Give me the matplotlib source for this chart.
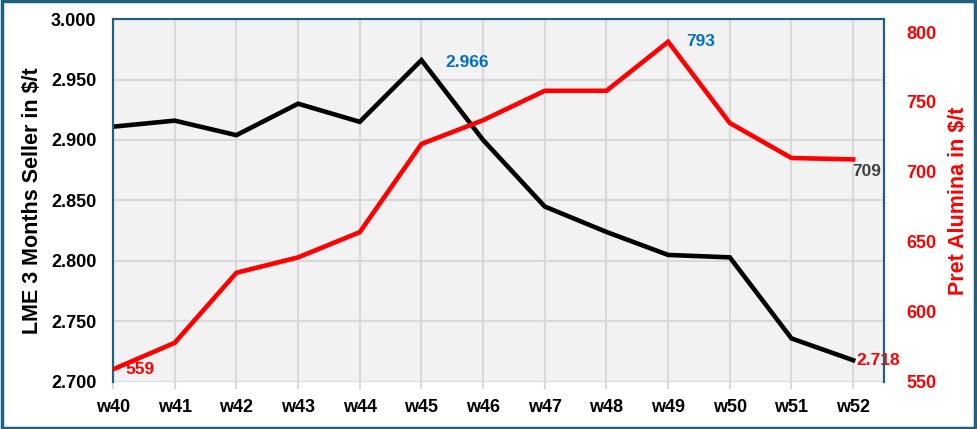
import numpy as np
import matplotlib.pyplot as plt
from matplotlib.patches import Rectangle

# -------------------
# Data
# -------------------
weeks = ["w40", "w41", "w42", "w43", "w44", "w45", "w46",
         "w47", "w48", "w49", "w50", "w51", "w52"]
lme_3m = [2.911, 2.916, 2.904, 2.930, 2.915, 2.966, 2.900,
          2.845, 2.824, 2.805, 2.803, 2.736, 2.718]
alumina = [559, 578, 628, 639, 657, 720, 737,
           758, 758, 793, 735, 710, 709]

plt.rcParams['font.family'] = ['Liberation Sans', 'DejaVu Sans']
plt.rcParams['font.weight'] = 'bold'

BLUE_EDGE = "#1f5f80"
GRID = "#d9d9d9"

fig = plt.figure(figsize=(9.77, 4.29), dpi=100)
ax = fig.add_axes([0.1157, 0.1096, 0.7891, 0.8461])
ax2 = ax.twinx()

x = np.arange(len(weeks))

# -------------------
# Left axis (LME)
# -------------------
ax.set_facecolor("#f2f2f2")
ax.plot(x, lme_3m, color="black", lw=3.3, solid_joinstyle="miter", zorder=3)
ax.set_xlim(0, 12.5)
ax.set_ylim(2.700, 3.000)
yt = np.arange(2.700, 3.0001, 0.05)
ax.set_yticks(yt)
ax.set_yticklabels([f"{v:.3f}" for v in yt])
ax.set_xticks(x)
ax.set_xticklabels(weeks)
ax.grid(True, color=GRID, lw=1.5, zorder=0)
ax.set_axisbelow(True)
ax.tick_params(axis="y", length=0, labelsize=13, pad=12)
ax.tick_params(axis="x", length=5, color=GRID, width=1.5, labelsize=13, pad=7)
ax.set_ylabel("LME 3 Months Seller in $/t", fontsize=15.5, fontweight="bold", labelpad=6)

# -------------------
# Right axis (alumina)
# -------------------
ax2.plot(x, alumina, color="#ff0000", lw=3.3, solid_joinstyle="miter", zorder=3)
ax2.set_ylim(550, 550 + 363 / 1.4)
ax2.set_yticks(np.arange(550, 801, 50))
ax2.tick_params(axis="y", length=0, labelsize=13, labelcolor="#ff0000", pad=16)
ax2.set_ylabel("Pret Alumina in $/t", fontsize=15.5, fontweight="bold", color="#ff0000", labelpad=8)

for a in (ax, ax2):
    a.spines["bottom"].set_visible(False)
    for s in ("left", "top", "right"):
        a.spines[s].set_color(BLUE_EDGE)
        a.spines[s].set_linewidth(1.5)

# -------------------
# Labels on points
# -------------------
ax.annotate(f"{lme_3m[5]:.3f}", (x[5], lme_3m[5]), xytext=(17, -7), textcoords="offset points",
            color="#0070c0", fontsize=12.5, fontweight="bold", va="bottom")
ax.annotate(f"{lme_3m[-1]:.3f}", (x[-1], lme_3m[-1]), xytext=(2, 0), textcoords="offset points",
            color="#ff0000", fontsize=12.5, fontweight="bold", va="center")
ax2.annotate(f"{alumina[9]}", (x[9], alumina[9]), xytext=(13, 0), textcoords="offset points",
             color="#0070c0", fontsize=12.5, fontweight="bold", va="center")
ax2.annotate(f"{alumina[-1]}", (x[-1], alumina[-1]), xytext=(-1, -3), textcoords="offset points",
             color="#404040", fontsize=12.5, fontweight="bold", va="top")
ax2.annotate(f"{alumina[0]}", (x[0], alumina[0]), xytext=(9, 0), textcoords="offset points",
             color="#ff0000", fontsize=12.5, fontweight="bold", va="center")

# figure border
fig.patches.append(Rectangle((0.002, 0.003), 0.996, 0.994, transform=fig.transFigure,
                             fill=False, edgecolor=BLUE_EDGE, lw=2.5))

fig.savefig("out.png", dpi=100)
